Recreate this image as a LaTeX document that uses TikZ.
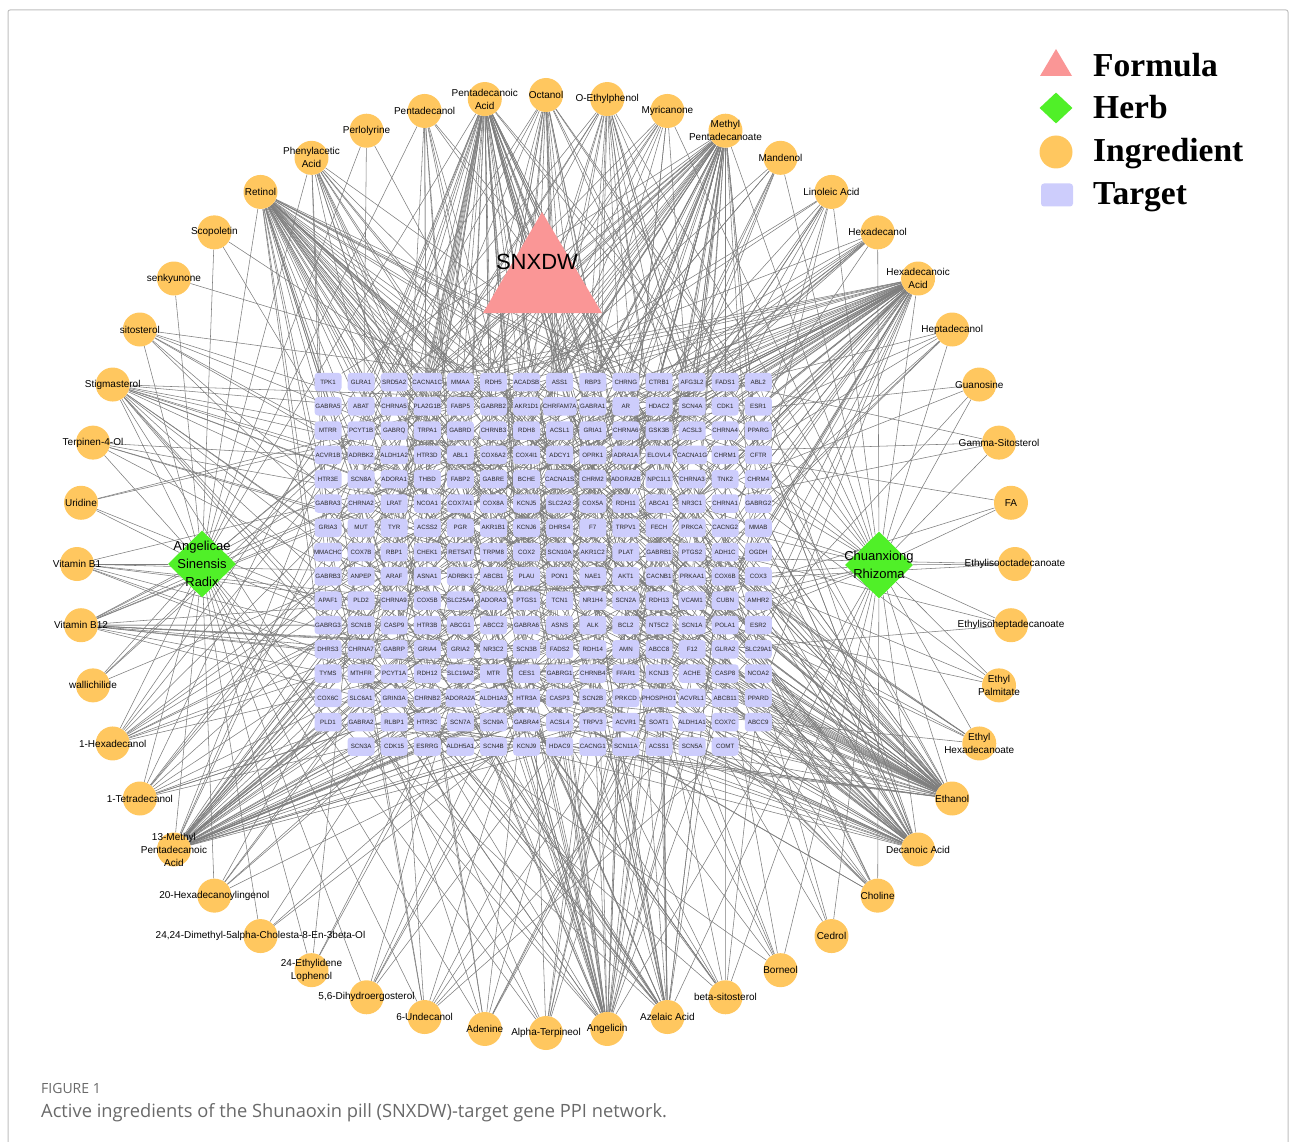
\documentclass[tikz,border=0pt]{standalone}
\usepackage{fontspec}
\setmainfont{Liberation Sans}
\newfontfamily\legendfont{Liberation Serif}
\newfontfamily\capfont{Open Sans}
\usetikzlibrary{shapes.geometric,backgrounds}
\definecolor{ingc}{RGB}{255,199,95}
\definecolor{herbc}{RGB}{80,240,40}
\definecolor{tgtc}{RGB}{205,205,252}
\definecolor{formc}{RGB}{250,150,150}
\definecolor{edgec}{RGB}{125,125,125}
\definecolor{capc}{RGB}{105,105,105}
\definecolor{framec}{RGB}{190,190,190}
\begin{document}
\begin{tikzpicture}[x=1pt,y=-1pt,
  ing/.style={circle,fill=ingc,minimum size=34pt,inner sep=0pt},
  inglab/.style={font=\fontsize{10}{13}\selectfont,align=center,inner sep=0pt},
  tgt/.style={rectangle,rounded corners=3.5pt,fill=tgtc,minimum width=27pt,minimum height=18.5pt,inner sep=0pt,font=\fontsize{6.2}{7}\selectfont,text=black!85},
  herb/.style={diamond,fill=herbc,minimum width=68pt,minimum height=67pt,inner sep=0pt},
  herblab/.style={font=\fontsize{13}{18}\selectfont,align=center,inner sep=0pt},
  edge/.style={draw=edgec,line width=0.55pt},
  legtxt/.style={font=\legendfont\fontsize{33.5}{33.5}\selectfont\bfseries,anchor=base west,inner sep=0pt}
]
\useasboundingbox (0,0) rectangle (1293,1142);
\draw[framec,line width=1pt,rounded corners=2pt] (8,10) rectangle (1288,1160);

% ---------- ingredients ----------
\foreach \i in {1,...,48} {
  \pgfmathsetmacro{\a}{90-(\i-1)*7.5}
  \node[ing] (i\i) at ({546+469*cos(\a)},{564-469*sin(\a)}) {};
}
\foreach \lab [count=\i] in {Octanol, O-Ethylphenol, Myricanone, {Methyl\\Pentadecanoate}, Mandenol, Linoleic Acid, Hexadecanol, {Hexadecanoic\\Acid}, Heptadecanol, Guanosine, Gamma-Sitosterol, FA, Ethylisooctadecanoate, Ethylisoheptadecanoate, {Ethyl\\Palmitate}, {Ethyl\\Hexadecanoate}, Ethanol, Decanoic Acid, Choline, Cedrol, Borneol, beta-sitosterol, Azelaic Acid, Angelicin, Alpha-Terpineol, Adenine, 6-Undecanol, {5,6-Dihydroergosterol}, {24-Ethylidene\\Lophenol}, {24,24-Dimethyl-5alpha-Cholesta-8-En-3beta-Ol}, 20-Hexadecanoylingenol, {13-Methyl\\Pentadecanoic\\Acid}, 1-Tetradecanol, 1-Hexadecanol, wallichilide, Vitamin B12, Vitamin B1, Uridine, Terpinen-4-Ol, Stigmasterol, sitosterol, senkyunone, Scopoletin, Retinol, {Phenylacetic\\Acid}, Perlolyrine, Pentadecanol, {Pentadecanoic\\Acid}} {
  \node[inglab] (il\i) at (i\i) {\lab};
}

% ---------- targets ----------
\newcommand{\tgtrow}[3]{%
  \foreach \lab [count=\c] in {#3} {
    \pgfmathtruncatemacro{\cc}{\c+#2}
    \node[tgt] (t-#1-\cc) at ({328+(\cc-1)*33.1},{382+(#1-1)*24.3}) {\lab};
  }}
\tgtrow{1}{0}{TPK1,GLRA1,SRD5A2,CACNA1C,MMAA,RDH5,ACADSB,ASS1,RBP3,CHRNG,CTRB1,AFG3L2,FADS1,ABL2}
\tgtrow{2}{0}{GABRA5,ABAT,CHRNA5,PLA2G1B,FABP5,GABRB2,AKR1D1,CHRFAM7A,GABRA1,AR,HDAC2,SCN4A,CDK1,ESR1}
\tgtrow{3}{0}{MTRR,PCYT1B,GABRQ,TRPA1,GABRD,CHRNB3,RDH8,ACSL1,GRIA1,CHRNA6,GSK3B,ACSL3,CHRNA4,PPARG}
\tgtrow{4}{0}{ACVR1B,ADRBK2,ALDH1A2,HTR3D,ABL1,COX6A2,COX4I1,ADCY1,OPRK1,ADRA1A,ELOVL4,CACNA1G,CHRM1,CFTR}
\tgtrow{5}{0}{HTR3E,SCN8A,ADORA1,THBD,FABP2,GABRE,BCHE,CACNA1S,CHRM2,ADORA2B,NPC1L1,CHRNA3,TNK2,CHRM4}
\tgtrow{6}{0}{GABRA3,CHRNA2,LRAT,NCOA1,COX7A1,COX8A,KCNJ5,SLC2A2,COX5A,RDH11,ABCA1,NR3C1,CHRNA1,GABRG2}
\tgtrow{7}{0}{GRIA3,MUT,TYR,ACSS2,PGR,AKR1B1,KCNJ6,DHRS4,F7,TRPV1,FECH,PRKCA,CACNG2,MMAB}
\tgtrow{8}{0}{MMACHC,COX7B,RBP1,CHEK1,RETSAT,TRPM8,COX2,SCN10A,AKR1C2,PLAT,GABRB1,PTGS2,ADH1C,OGDH}
\tgtrow{9}{0}{GABRB3,ANPEP,ARAF,ASNA1,ADRBK1,ABCB1,PLAU,PON1,NAE1,AKT1,CACNB1,PRKAA1,COX6B,COX3}
\tgtrow{10}{0}{APAF1,PLD2,CHRNA9,COX5B,SLC25A4,ADORA3,PTGS1,TCN1,NR1H4,SCN2A,RDH13,VCAM1,CUBN,AMHR2}
\tgtrow{11}{0}{GABRG3,SCN1B,CASP9,HTR3B,ABCG1,ABCC2,GABRA6,ASNS,ALK,BCL2,NT5C2,SCN1A,POLA1,ESR2}
\tgtrow{12}{0}{DHRS3,CHRNA7,GABRP,GRIA4,GRIA2,NR3C2,SCN3B,FADS2,RDH14,AMN,ABCC8,F12,GLRA2,SLC29A1}
\tgtrow{13}{0}{TYMS,MTHFR,PCYT1A,RDH12,SLC19A2,MTR,CES1,GABRG1,CHRNB4,FFAR1,KCNJ3,ACHE,CASP8,NCOA2}
\tgtrow{14}{0}{COX6C,SLC6A1,GRIN3A,CHRNB2,ADORA2A,ALDH1A3,HTR3A,CASP3,SCN2B,PRKCD,PHOSPHO1,ACVRL1,ABCB11,PPARD}
\tgtrow{15}{0}{PLD1,GABRA2,RLBP1,HTR3C,SCN7A,SCN9A,GABRA4,ACSL4,TRPV3,ACVR1,SOAT1,ALDH1A1,COX7C,ABCC9}
\tgtrow{16}{1}{SCN3A,CDK15,ESRRG,ALDH5A1,SCN4B,KCNJ9,HDAC9,CACNG1,SCN11A,ACSS1,SCN5A,COMT}

% ---------- herbs ----------
\node[herb] (h1) at (202,564) {};
\node[herblab] at (h1) {Angelicae\\Sinensis\\Radix};
\node[herb] (h2) at (879,565) {};
\node[herblab] at (h2) {Chuanxiong\\Rhizoma};

% ---------- formula ----------
\coordinate (snx) at (542,279);
\fill[formc] (542,212) -- (602,313) -- (483,313) -- cycle;
\node[font=\fontsize{22}{22}\selectfont,inner sep=0pt] (snxl) at (537,262) {SNXDW};

% ---------- edges ----------
\begin{pgfonlayer}{background}
\pgfmathsetseed{2024}
\foreach \i/\k in {1/22,2/20,3/10,4/55,5/7,6/10,7/10,8/60,9/6,10/3,11/3,12/2,13/2,14/2,15/3,16/6,17/55,18/42,19/10,20/3,21/6,22/10,23/28,24/35,25/8,26/8,27/8,28/5,29/3,30/3,31/6,32/48,33/10,34/10,35/3,36/14,37/7,38/3,39/5,40/16,41/6,42/1,43/2,44/48,45/14,46/2,47/10,48/55} {
  \foreach \j in {1,...,\k} {
    \pgfmathtruncatemacro{\rr}{random(1,15)}
    \pgfmathtruncatemacro{\cc}{random(1,14)}
    \draw[edge] (i\i) -- (t-\rr-\cc);
  }
}
\foreach \i in {4,8,17,18,24,25,26,27,28,29,30,31,32,33,34,35,36,37,38,39,40,41,42,43,44,45,46,47,48}
  \draw[edge] (h1) -- (i\i);
\foreach \i in {1,2,3,4,5,6,7,8,9,10,11,12,13,14,15,16,17,18,19,20,21,22,23,24,32,33,34,36,40,41,44,45,48}
  \draw[edge] (h2) -- (i\i);
\draw[edge] (snx) -- (h1);
\draw[edge] (snx) -- (h2);
\end{pgfonlayer}

% ---------- legend ----------
\fill[formc] (1056,49) -- (1072,76) -- (1040,76) -- cycle;
\node[diamond,fill=herbc,minimum width=33pt,minimum height=31pt,inner sep=0pt] (lg2) at (1056,108) {};
\node[circle,fill=ingc,minimum size=33pt,inner sep=0pt] (lg3) at (1056,152) {};
\node[rectangle,rounded corners=3pt,fill=tgtc,minimum width=32pt,minimum height=23pt,inner sep=0pt] (lg4) at (1057,195) {};
\node[legtxt] (lt1) at (1093,77) {Formula};
\node[legtxt] (lt2) at (1093,119) {Herb};
\node[legtxt] (lt3) at (1093,162) {Ingredient};
\node[legtxt] (lt4) at (1093,205) {Target};

% ---------- caption ----------
\node[anchor=base west,inner sep=0pt,text=capc,font=\capfont\fontsize{14}{14}\selectfont] (cap1) at (41,1093) {FIGURE 1};
\node[anchor=base west,inner sep=0pt,text=capc,font=\capfont\fontsize{18.3}{18.3}\selectfont] (cap2) at (41,1117) {Active ingredients of the Shunaoxin pill (SNXDW)-target gene PPI network.};
\end{tikzpicture}
\end{document}
